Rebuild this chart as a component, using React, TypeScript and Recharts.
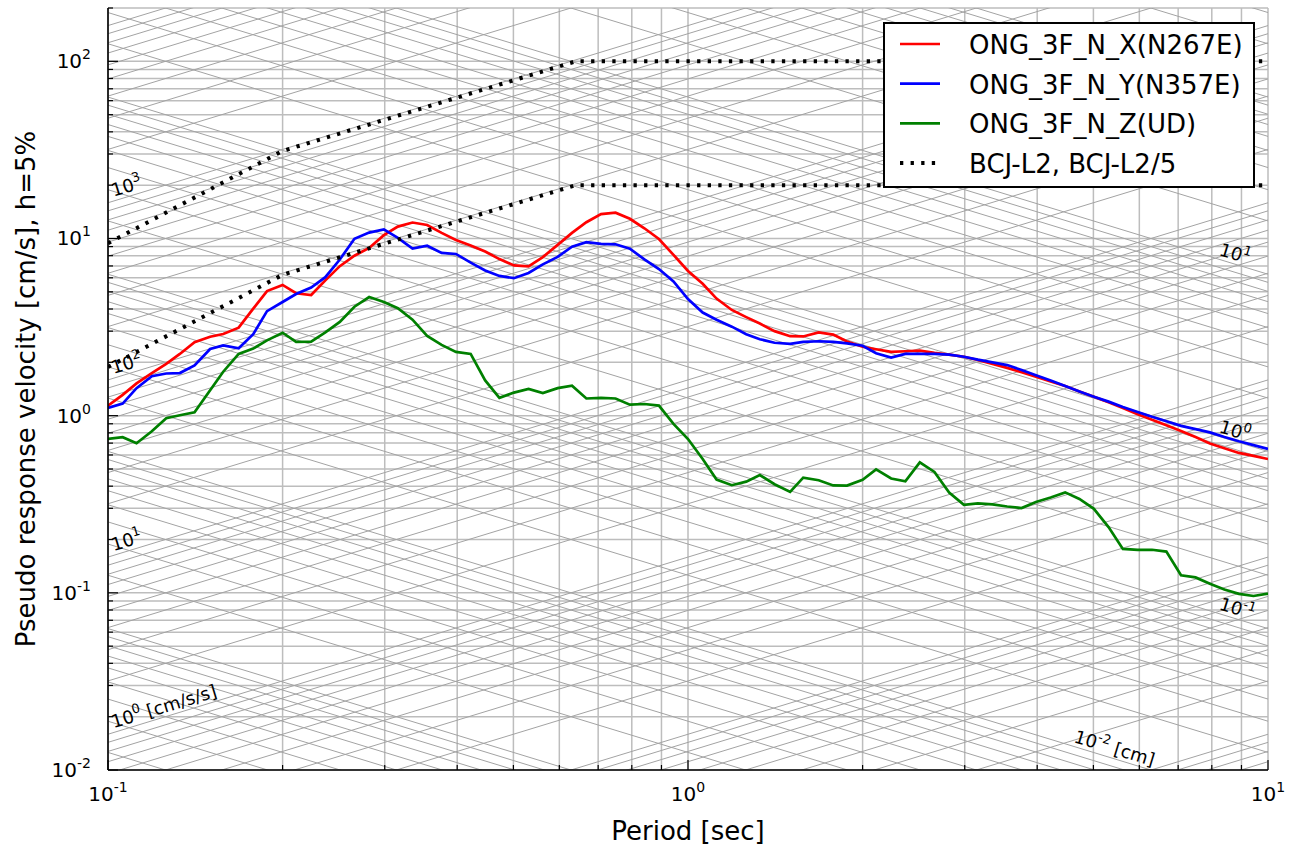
import React from "react";
import {
  CartesianGrid,
  Line,
  LineChart,
  ReferenceDot,
  ReferenceLine,
  XAxis,
  YAxis
} from "recharts";

const FONT = "'DejaVu Sans', 'Liberation Sans', sans-serif";
const TWO_PI = 2 * Math.PI;

// periods [sec]
const periods = [
  0.1, 0.106, 0.112, 0.119, 0.126, 0.133, 0.141, 0.15, 0.158, 0.168,
  0.178, 0.188, 0.2, 0.211, 0.224, 0.237, 0.251, 0.266, 0.282, 0.299,
  0.316, 0.335, 0.355, 0.376, 0.398, 0.422, 0.447, 0.473, 0.501, 0.531,
  0.562, 0.596, 0.631, 0.668, 0.708, 0.75, 0.794, 0.841, 0.891, 0.944,
  1.0, 1.06, 1.12, 1.19, 1.26, 1.33, 1.41, 1.5, 1.58, 1.68,
  1.78, 1.88, 2.0, 2.11, 2.24, 2.37, 2.51, 2.66, 2.82, 2.99,
  3.16, 3.35, 3.55, 3.76, 3.98, 4.22, 4.47, 4.73, 5.01, 5.31,
  5.62, 5.96, 6.31, 6.68, 7.08, 7.5, 7.94, 8.41, 8.91, 9.44, 10
];

// pSv [cm/s]
const nsX = [
  1.14, 1.31, 1.52, 1.74, 1.96, 2.23, 2.6, 2.79, 2.89, 3.14,
  4.02, 5.05, 5.47, 4.91, 4.8, 5.8, 6.98, 7.99, 8.84, 10.45,
  11.67, 12.31, 11.92, 10.76, 9.81, 9.14, 8.44, 7.65, 7.05, 6.97,
  7.85, 9.2, 10.76, 12.36, 13.73, 13.99, 12.92, 11.42, 9.94, 8.09,
  6.56, 5.55, 4.58, 3.95, 3.6, 3.31, 3.0, 2.81, 2.8, 2.95,
  2.87, 2.62, 2.45, 2.37, 2.29, 2.31, 2.33, 2.26, 2.21, 2.15,
  2.06, 1.96, 1.86, 1.76, 1.66, 1.56, 1.47, 1.37, 1.28, 1.19,
  1.105, 1.02, 0.947, 0.884, 0.82, 0.757, 0.697, 0.654, 0.616, 0.593, 0.569
];

const nsY = [
  1.105, 1.17, 1.43, 1.67, 1.73, 1.74, 1.92, 2.38, 2.49, 2.4,
  2.88, 3.89, 4.38, 4.86, 5.29, 6.05, 7.61, 9.97, 10.8, 11.26,
  10.08, 8.78, 9.11, 8.29, 8.18, 7.31, 6.6, 6.15, 5.97, 6.39,
  7.14, 7.88, 8.99, 9.53, 9.32, 9.27, 8.76, 7.62, 6.72, 5.72,
  4.55, 3.82, 3.48, 3.18, 2.88, 2.7, 2.58, 2.54, 2.61, 2.63,
  2.61, 2.56, 2.48, 2.25, 2.13, 2.23, 2.23, 2.23, 2.21, 2.15,
  2.07, 2.0, 1.93, 1.81, 1.69, 1.58, 1.47, 1.37, 1.28, 1.2,
  1.12, 1.05, 0.985, 0.929, 0.876, 0.839, 0.805, 0.758, 0.717, 0.682, 0.649
];

const udZ = [
  0.739, 0.756, 0.699, 0.816, 0.967, 1.005, 1.044, 1.39, 1.77, 2.23,
  2.39, 2.66, 2.94, 2.61, 2.62, 2.95, 3.38, 4.12, 4.67, 4.38,
  4.04, 3.48, 2.82, 2.51, 2.29, 2.23, 1.58, 1.26, 1.35, 1.415,
  1.34, 1.43, 1.475, 1.25, 1.26, 1.25, 1.154, 1.164, 1.14, 0.898,
  0.738, 0.569, 0.436, 0.405, 0.424, 0.462, 0.41, 0.371, 0.447, 0.432,
  0.404, 0.403, 0.434, 0.497, 0.442, 0.426, 0.545, 0.481, 0.368, 0.314,
  0.32, 0.316, 0.307, 0.301, 0.326, 0.345, 0.369, 0.339, 0.298, 0.235,
  0.177, 0.175, 0.175, 0.171, 0.1256, 0.1222, 0.1124, 0.1043, 0.0987, 0.096, 0.099
];

// BCJ-L2 design spectrum and 1/5 of it
const bcjPeriods = [0.1, 0.2, 0.64, 10];
const bcjL2 = [9.4, 31.2, 100, 100];
const bcjL2Div5 = [1.88, 6.24, 20, 20];

const xTicks = [
  0.1, 0.2, 0.3, 0.4, 0.5, 0.6, 0.7, 0.8, 0.9,
  1, 2, 3, 4, 5, 6, 7, 8, 9, 10
];
const yTicks = [
  0.01, 0.02, 0.03, 0.04, 0.05, 0.06, 0.07, 0.08, 0.09,
  0.1, 0.2, 0.3, 0.4, 0.5, 0.6, 0.7, 0.8, 0.9,
  1, 2, 3, 4, 5, 6, 7, 8, 9,
  10, 20, 30, 40, 50, 60, 70, 80, 90,
  100, 200
];

// tripartite guide lines: acceleration [cm/s/s] and displacement [cm]
const guideSteps = [1, 2, 3, 4, 5, 6, 7, 8, 9];
const accelDecades = [-3, -2, -1, 0, 1, 2, 3, 4];
const dispDecades = [-4, -3, -2, -1, 0, 1, 2];

const accelLabels = [
  { level: 1000, sup: "3", rest: "" },
  { level: 100, sup: "2", rest: "" },
  { level: 10, sup: "1", rest: "" },
  { level: 1, sup: "0", rest: " [cm/s/s]" }
];
const dispLabels = [
  { level: 10, sup: "1", rest: "", t: 8.17 },
  { level: 1, sup: "0", rest: "", t: 8.17 },
  { level: 0.1, sup: "-1", rest: "", t: 8.17 },
  { level: 0.01, sup: "-2", rest: " [cm]", t: 4.59 }
];

const toRows = (ys: number[], ts: number[] = periods) => ts.map((t, i) => ({ t, sv: ys[i] }));

const isDecade = (v: number) => Math.abs(Math.log10(v) - Math.round(Math.log10(v))) < 1e-6;
const expOf = (v: number) => String(Math.round(Math.log10(v)));

function BottomTick(props: any) {
  const { x, y, payload } = props;
  const major = isDecade(payload.value);
  return (
    <g>
      <line x1={x} y1={y} x2={x} y2={y - (major ? 10 : 5)} stroke="#000" strokeWidth={1.2} />
      {major && (
        <text x={x} y={y + 31} textAnchor="middle" fontFamily={FONT} fontSize={20} fill="#000">
          <tspan>10</tspan>
          <tspan dy={-9} fontSize={14}>{expOf(payload.value)}</tspan>
        </text>
      )}
    </g>
  );
}

function TopTick(props: any) {
  const { x, y, payload } = props;
  const major = isDecade(payload.value);
  return <line x1={x} y1={y} x2={x} y2={y + (major ? 10 : 5)} stroke="#000" strokeWidth={1.2} />;
}

function LeftTick(props: any) {
  const { x, y, payload } = props;
  const major = isDecade(payload.value);
  return (
    <g>
      <line x1={x} y1={y} x2={x + (major ? 10 : 5)} y2={y} stroke="#000" strokeWidth={1.2} />
      {major && (
        <text x={x - 17} y={y + 7} textAnchor="end" fontFamily={FONT} fontSize={20} fill="#000">
          <tspan>10</tspan>
          <tspan dy={-9} fontSize={14}>{expOf(payload.value)}</tspan>
        </text>
      )}
    </g>
  );
}

function RightTick(props: any) {
  const { x, y, payload } = props;
  const major = isDecade(payload.value);
  return <line x1={x} y1={y} x2={x - (major ? 10 : 5)} y2={y} stroke="#000" strokeWidth={1.2} />;
}

function XTitle(props: any) {
  const vb = props.viewBox;
  if (!vb) return null;
  return (
    <text x={vb.x + vb.width / 2} y={vb.y + 70} textAnchor="middle" fontFamily={FONT} fontSize={26} fill="#000">
      Period [sec]
    </text>
  );
}

function YTitle(props: any) {
  const vb = props.viewBox;
  if (!vb) return null;
  const cx = vb.x + 26;
  const cy = vb.y + vb.height / 2;
  return (
    <text
      x={cx}
      y={cy}
      transform={`rotate(-90 ${cx} ${cy})`}
      textAnchor="middle"
      dominantBaseline="central"
      fontFamily={FONT}
      fontSize={26}
      fill="#000"
    >
      Pseudo response velocity [cm/s], h=5%
    </text>
  );
}

// label of a guide line, tilted along it (rot in degrees)
function GuideText(props: any) {
  const { viewBox, sup, rest, rot } = props;
  if (!viewBox) return null;
  return (
    <text
      transform={`translate(${viewBox.x},${viewBox.y}) rotate(${rot})`}
      x={0}
      y={-4}
      fontFamily={FONT}
      fontSize={18}
      fill="#000"
      xmlSpace="preserve"
    >
      <tspan>10</tspan>
      <tspan dy={-8} fontSize={13}>{sup}</tspan>
      {rest ? <tspan dy={8} fontSize={18}>{rest}</tspan> : null}
    </text>
  );
}

const legendItems = [
  { name: "ONG_3F_N_X(N267E)", color: "#ff0000", dash: undefined },
  { name: "ONG_3F_N_Y(N357E)", color: "#0000ff", dash: undefined },
  { name: "ONG_3F_N_Z(UD)", color: "#008000", dash: undefined },
  { name: "BCJ-L2, BCJ-L2/5", color: "#000000", dash: "3.3 7.3" }
];

export default function App() {
  const accelLevels: number[] = [];
  accelDecades.forEach((d) => guideSteps.forEach((k) => accelLevels.push(k * Math.pow(10, d))));
  const dispLevels: number[] = [];
  dispDecades.forEach((d) => guideSteps.forEach((k) => dispLevels.push(k * Math.pow(10, d))));

  const axisLine = { stroke: "#000", strokeWidth: 1.6 };

  return (
    <div style={{ position: "absolute", left: 0, top: 0, width: 1294, height: 850, background: "#fff" }}>
      <LineChart width={1294} height={850} margin={{ top: 8, right: 26, bottom: 0, left: 0 }}>
        <CartesianGrid stroke="#bdbdbd" strokeWidth={1.5} />

        {accelLevels.map((a) => (
          <ReferenceLine
            key={"a" + a}
            segment={[
              { x: 0.1, y: (a * 0.1) / TWO_PI },
              { x: 10, y: (a * 10) / TWO_PI }
            ]}
            stroke="#a3a3a3"
            strokeWidth={1}
            ifOverflow="hidden"
          />
        ))}
        {dispLevels.map((d) => (
          <ReferenceLine
            key={"d" + d}
            segment={[
              { x: 0.1, y: (TWO_PI * d) / 0.1 },
              { x: 10, y: (TWO_PI * d) / 10 }
            ]}
            stroke="#a3a3a3"
            strokeWidth={1}
            ifOverflow="hidden"
          />
        ))}

        <XAxis
          dataKey="t"
          type="number"
          scale="log"
          domain={[0.1, 10]}
          allowDataOverflow
          ticks={xTicks}
          interval={0}
          height={80}
          tickSize={0}
          tickMargin={0}
          tickLine={false}
          axisLine={axisLine}
          tick={<BottomTick />}
          label={<XTitle />}
        />
        <XAxis
          xAxisId="top"
          orientation="top"
          type="number"
          scale="log"
          domain={[0.1, 10]}
          allowDataOverflow
          ticks={xTicks}
          interval={0}
          height={0}
          tickSize={0}
          tickMargin={0}
          tickLine={false}
          axisLine={axisLine}
          tick={<TopTick />}
        />
        <YAxis
          type="number"
          scale="log"
          domain={[0.01, 200]}
          allowDataOverflow
          ticks={yTicks}
          interval={0}
          width={108}
          tickSize={0}
          tickMargin={0}
          tickLine={false}
          axisLine={axisLine}
          tick={<LeftTick />}
          label={<YTitle />}
        />
        <YAxis
          yAxisId="right"
          orientation="right"
          type="number"
          scale="log"
          domain={[0.01, 200]}
          allowDataOverflow
          ticks={yTicks}
          interval={0}
          width={0}
          tickSize={0}
          tickMargin={0}
          tickLine={false}
          axisLine={axisLine}
          tick={<RightTick />}
        />

        <Line data={toRows(nsX)} dataKey="sv" type="linear" stroke="#ff0000" strokeWidth={2.7} dot={false} isAnimationActive={false} />
        <Line data={toRows(nsY)} dataKey="sv" type="linear" stroke="#0000ff" strokeWidth={2.7} dot={false} isAnimationActive={false} />
        <Line data={toRows(udZ)} dataKey="sv" type="linear" stroke="#008000" strokeWidth={2.7} dot={false} isAnimationActive={false} />
        <Line data={toRows(bcjL2, bcjPeriods)} dataKey="sv" type="linear" stroke="#000" strokeWidth={4} strokeDasharray="3.3 7.3" dot={false} isAnimationActive={false} />
        <Line data={toRows(bcjL2Div5, bcjPeriods)} dataKey="sv" type="linear" stroke="#000" strokeWidth={4} strokeDasharray="3.3 7.3" dot={false} isAnimationActive={false} />

        {accelLabels.map((l) => (
          <ReferenceDot
            key={"al" + l.level}
            x={0.1027}
            y={(l.level * 0.1027) / TWO_PI}
            r={0}
            fill="none"
            stroke="none"
            ifOverflow="visible"
            label={<GuideText sup={l.sup} rest={l.rest} rot={-17} />}
          />
        ))}
        {dispLabels.map((l) => (
          <ReferenceDot
            key={"dl" + l.level}
            x={l.t}
            y={(TWO_PI * l.level) / l.t}
            r={0}
            fill="none"
            stroke="none"
            ifOverflow="visible"
            label={<GuideText sup={l.sup} rest={l.rest} rot={17} />}
          />
        ))}
      </LineChart>

      <svg width={372} height={166} style={{ position: "absolute", left: 883, top: 22 }}>
        <rect x={1} y={1} width={370} height={164} fill="#fff" stroke="#000" strokeWidth={2} />
        {legendItems.map((it, i) => {
          const cy = 22 + i * 39.7;
          return (
            <g key={it.name}>
              <line
                x1={17}
                x2={57}
                y1={cy}
                y2={cy}
                stroke={it.color}
                strokeWidth={it.dash ? 4 : 2.7}
                strokeDasharray={it.dash}
              />
              <text x={86} y={cy + 10} fontFamily={FONT} fontSize={26} fill="#000">
                {it.name}
              </text>
            </g>
          );
        })}
      </svg>
    </div>
  );
}
